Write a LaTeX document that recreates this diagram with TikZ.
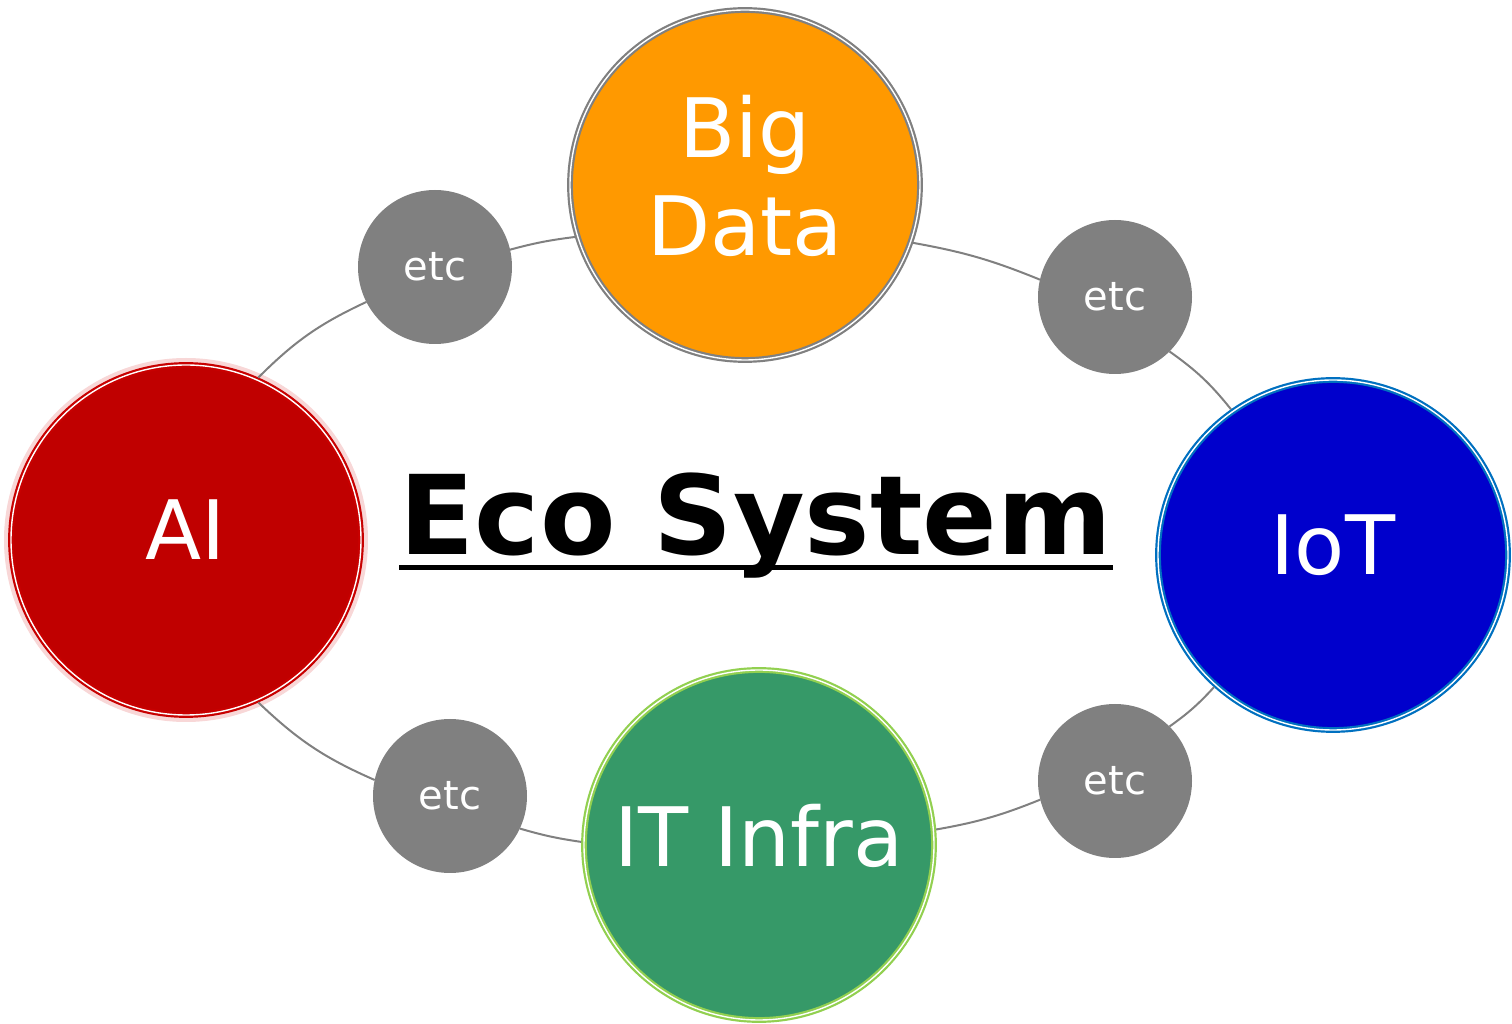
\documentclass[tikz,border=0pt]{standalone}
\usepackage{fontspec}
\setmainfont{DejaVu Sans}
\usepackage{tikz}

\definecolor{aifill}{RGB}{192,0,0}
\definecolor{airing}{RGB}{200,0,0}
\definecolor{aihalo}{RGB}{248,215,215}
\definecolor{bdfill}{RGB}{255,153,0}
\definecolor{iotfill}{RGB}{0,0,204}
\definecolor{iotring}{RGB}{0,112,192}
\definecolor{itfill}{RGB}{54,153,104}
\definecolor{itring}{RGB}{146,208,80}
\definecolor{etcgray}{RGB}{128,128,128}

\begin{document}
\begin{tikzpicture}[x=0.5pt,y=0.5pt,
  hub/.style={circle,minimum size=175pt,inner sep=0pt,outer sep=1.4pt,text=white,
    font=\fontsize{41}{51}\selectfont,align=center,text depth=10pt,
    double=white,double distance=0.7pt,line width=1.1pt},
  etcnode/.style={circle,fill=etcgray,minimum size=77pt,inner sep=0pt,outer sep=0pt,
    text=white,font=\fontsize{20}{24}\selectfont},
  link/.style={draw=etcgray,line width=1pt}]

  \useasboundingbox (0,0) rectangle (1512,1024);

  % main circles
  \node (ai) at (186,484) [hub,fill=aifill,draw=airing,
    preaction={draw=aihalo,line width=7pt}] {AI};
  \node (bigdata) at (745,839) [hub,fill=bdfill,draw=etcgray] {Big\\[-2pt]Data};
  \node (iot) at (1333,469) [hub,fill=iotfill,draw=iotring] {IoT};
  \node (itinfra) at (759,179) [hub,fill=itfill,draw=itring] {IT Infra};

  % small circles
  \foreach \n/\x/\y in {1/435/757, 2/1115/727, 3/1115/243, 4/450/228}
  {
    \node (etc\n) at (\x,\y) [etcnode] {etc};
  }

  % ring of links
  \draw [link] (ai.66) to [bend left=10] (etc1.207);
  \draw [link] (etc1.13) to [bend left=4] (bigdata.197);
  \draw [link] (bigdata.-19) to [bend left=6] (etc2.167);
  \draw [link] (etc2.-45) to [bend left=8] (iot.125);
  \draw [link] (iot.228) to [bend left=6] (etc3.45);
  \draw [link] (etc3.194) to [bend left=6] (itinfra.5);
  \draw [link] (itinfra.179) to [bend left=4] (etc4.-25);
  \draw [link] (etc4.168) to [bend left=10] (ai.-66);

  % title
  \node (title) at (756,469) [anchor=base,inner sep=0pt,
    font=\fontsize{55}{66}\bfseries] {Eco System};
  \draw [line width=2.5pt] ([yshift=-6.5pt]title.base west) -- ([yshift=-6.5pt]title.base east);

\end{tikzpicture}
\end{document}
